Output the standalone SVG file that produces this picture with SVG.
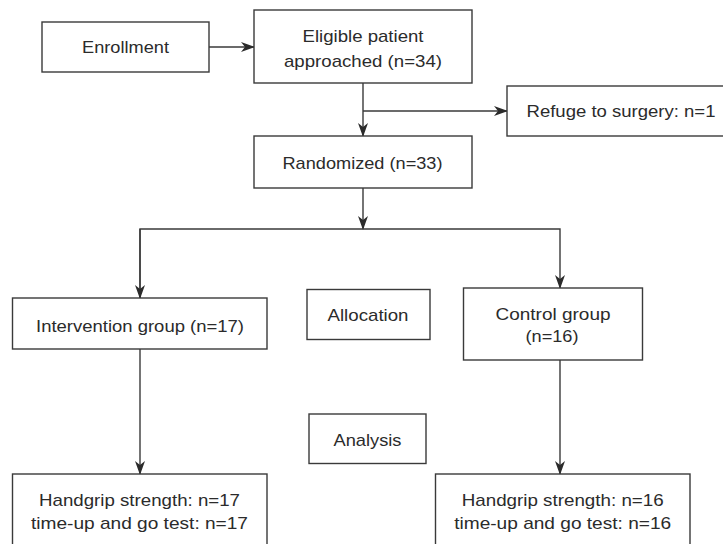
<svg xmlns="http://www.w3.org/2000/svg" width="723" height="544" viewBox="0 0 723 544">
<style>
.box{fill:#fff;stroke:#3a3a3a;stroke-width:1.4}
.t{font-family:"Liberation Sans",Arial,Helvetica,sans-serif;font-size:17px;fill:#2b2b2b;text-anchor:middle}
.c{fill:none;stroke:#3a3a3a;stroke-width:1.4}
</style>
<defs>
<marker id="ah" markerUnits="userSpaceOnUse" viewBox="0 0 14 10" refX="13" refY="5" markerWidth="14" markerHeight="10" orient="auto">
<path d="M0,0 L14,5 L0,10 L4,5 z" fill="#2b2b2b"/>
</marker>
</defs>
<rect width="723" height="544" fill="#fff"/>
<g id="connectors">
<path class="c" d="M209,47 H254" marker-end="url(#ah)"/>
<path class="c" d="M363,83 V136" marker-end="url(#ah)"/>
<path class="c" d="M363,111 H507" marker-end="url(#ah)"/>
<path class="c" d="M363,188 V229" marker-end="url(#ah)"/>
<path class="c" d="M140,298 V229 H560 V288" marker-end="url(#ah)"/>
<path class="c" d="M140,229 V298" marker-end="url(#ah)"/>
<path class="c" d="M140,349 V474" marker-end="url(#ah)"/>
<path class="c" d="M560,360 V474" marker-end="url(#ah)"/>
</g>
<g id="enrollment">
<rect class="box" x="42" y="22" width="167" height="50"/>
<text class="t" x="125.5" y="53" textLength="87" lengthAdjust="spacingAndGlyphs">Enrollment</text>
</g>
<g id="eligible">
<rect class="box" x="254" y="10" width="218" height="73"/>
<text class="t" x="363" y="42" textLength="121" lengthAdjust="spacingAndGlyphs">Eligible patient</text>
<text class="t" x="363" y="66.5" textLength="158" lengthAdjust="spacingAndGlyphs">approached (n=34)</text>
</g>
<g id="refuge">
<rect class="box" x="507" y="86" width="230" height="50"/>
<text class="t" x="621" y="117" textLength="189" lengthAdjust="spacingAndGlyphs">Refuge to surgery: n=1</text>
</g>
<g id="randomized">
<rect class="box" x="254" y="136" width="218" height="52"/>
<text class="t" x="362.5" y="169" textLength="160" lengthAdjust="spacingAndGlyphs">Randomized (n=33)</text>
</g>
<g id="intervention">
<rect class="box" x="12.5" y="298" width="254.5" height="51"/>
<text class="t" x="140" y="332" textLength="208" lengthAdjust="spacingAndGlyphs">Intervention group (n=17)</text>
</g>
<g id="allocation">
<rect class="box" x="307" y="289.5" width="123" height="50"/>
<text class="t" x="368" y="321" textLength="81" lengthAdjust="spacingAndGlyphs">Allocation</text>
</g>
<g id="control">
<rect class="box" x="463.5" y="288" width="179" height="72"/>
<text class="t" x="553" y="320" textLength="115" lengthAdjust="spacingAndGlyphs">Control group</text>
<text class="t" x="552" y="342" textLength="53" lengthAdjust="spacingAndGlyphs">(n=16)</text>
</g>
<g id="analysis">
<rect class="box" x="309" y="414" width="117" height="49.5"/>
<text class="t" x="367.5" y="446" textLength="68" lengthAdjust="spacingAndGlyphs">Analysis</text>
</g>
<g id="result-intervention">
<rect class="box" x="12.5" y="474" width="254.5" height="80"/>
<text class="t" x="139.5" y="506" textLength="201" lengthAdjust="spacingAndGlyphs">Handgrip strength: n=17</text>
<text class="t" x="139.5" y="528.5" textLength="217" lengthAdjust="spacingAndGlyphs">time-up and go test: n=17</text>
</g>
<g id="result-control">
<rect class="box" x="435.5" y="474" width="254.5" height="80"/>
<text class="t" x="562.7" y="506" textLength="202" lengthAdjust="spacingAndGlyphs">Handgrip strength: n=16</text>
<text class="t" x="562.7" y="528.5" textLength="217" lengthAdjust="spacingAndGlyphs">time-up and go test: n=16</text>
</g>
</svg>
